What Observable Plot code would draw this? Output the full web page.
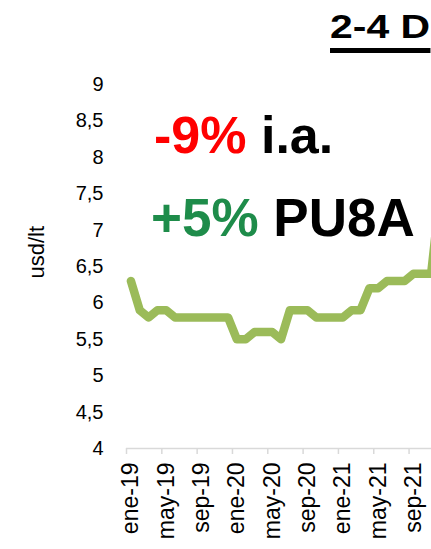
<!DOCTYPE html>
<html>
<head>
<meta charset="utf-8">
<script src="https://cdn.jsdelivr.net/npm/d3@7"></script>
<script src="https://cdn.jsdelivr.net/npm/@observablehq/plot@0.6"></script>
<style>
  html, body { margin: 0; padding: 0; background: #fff; overflow: hidden; }
  body { width: 431px; height: 549px; position: relative; font-family: "Liberation Sans", Arial, sans-serif; }
  #chart { position: absolute; left: 0; top: 0; }
  .ov { position: absolute; white-space: nowrap; font-weight: bold; line-height: 1; }
</style>
</head>
<body>
<div id="chart"></div>
<div class="ov" id="title" style="left:330px; top:10px; font-size:33px; padding-bottom:5px; border-bottom:5.5px solid #000; transform:scaleX(1.24); transform-origin:0 0;">2-4 D</div>
<div class="ov" style="left:154px; top:109px; font-size:52px;"><span style="color:#ff0000">-9%</span> <span style="color:#000">i.a.</span></div>
<div class="ov" style="left:151px; top:191px; font-size:53px;"><span style="color:#1e8c4a">+5%</span> <span style="color:#000">PU8A</span></div>
<script>
// Monthly price (usd/lt), ene-19 onward
const meses = ["ene-19","feb-19","mar-19","abr-19","may-19","jun-19","jul-19","ago-19","sep-19","oct-19","nov-19","dic-19",
               "ene-20","feb-20","mar-20","abr-20","may-20","jun-20","jul-20","ago-20","sep-20","oct-20","nov-20","dic-20",
               "ene-21","feb-21","mar-21","abr-21","may-21","jun-21","jul-21","ago-21","sep-21","oct-21","nov-21","dic-21"];
const precio = [6.3, 5.9, 5.8, 5.9, 5.9, 5.8, 5.8, 5.8, 5.8, 5.8, 5.8, 5.8,
                5.5, 5.5, 5.6, 5.6, 5.6, 5.5, 5.9, 5.9, 5.9, 5.8, 5.8, 5.8,
                5.8, 5.9, 5.9, 6.2, 6.2, 6.3, 6.3, 6.3, 6.4, 6.4, 6.4, 7.5];
const tickLabels = ["ene-19","may-19","sep-19","ene-20","may-20","sep-20","ene-21","may-21","sep-21"];
const yTicks = [4, 4.5, 5, 5.5, 6, 6.5, 7, 7.5, 8, 8.5, 9];

const data = precio.map((v, i) => ({i, mes: meses[i], v}));
const labelData = tickLabels.map(l => ({i: meses.indexOf(l), l}));
const boundaryTicks = labelData.map(d => d.i - 0.5);

const plot = Plot.plot({
  width: 431,
  height: 549,
  marginLeft: 126,
  marginRight: 0,
  marginTop: 84,
  marginBottom: 101,
  style: {fontFamily: "'Liberation Sans', Arial, sans-serif", color: "#000", background: "#fff", maxWidth: "none"},
  x: {type: "linear", domain: [-0.5, 47.5], range: [126, 126 + 48 * 8.83], axis: null},
  y: {domain: [4, 9], range: [448, 84], axis: null},
  marks: [
    Plot.ruleY([4], {stroke: "#d9d9d9", strokeWidth: 1.5}),
    Plot.axisX(boundaryTicks, {tickSize: 6, tickFormat: () => "", stroke: "#d9d9d9", strokeWidth: 1.5, label: null}),
    Plot.text(labelData, {x: "i", text: "l", frameAnchor: "bottom", dy: 14, rotate: -90, textAnchor: "end", lineAnchor: "middle", fontSize: 23, fill: "#000"}),
    Plot.axisY(yTicks, {tickSize: 0, tickPadding: 23, fontSize: 20, tickFormat: d => String(d).replace(".", ","), label: null, fill: "#000"}),
    Plot.text(["usd/lt"], {frameAnchor: "left", dx: -90, dy: 12, rotate: -90, fontSize: 22, fill: "#000"}),
    Plot.line(data, {x: "i", y: "v", stroke: "#9bbb59", strokeWidth: 8.5, strokeLinejoin: "round", strokeLinecap: "round", clip: true})
  ]
});
document.getElementById("chart").appendChild(plot);
</script>
</body>
</html>
